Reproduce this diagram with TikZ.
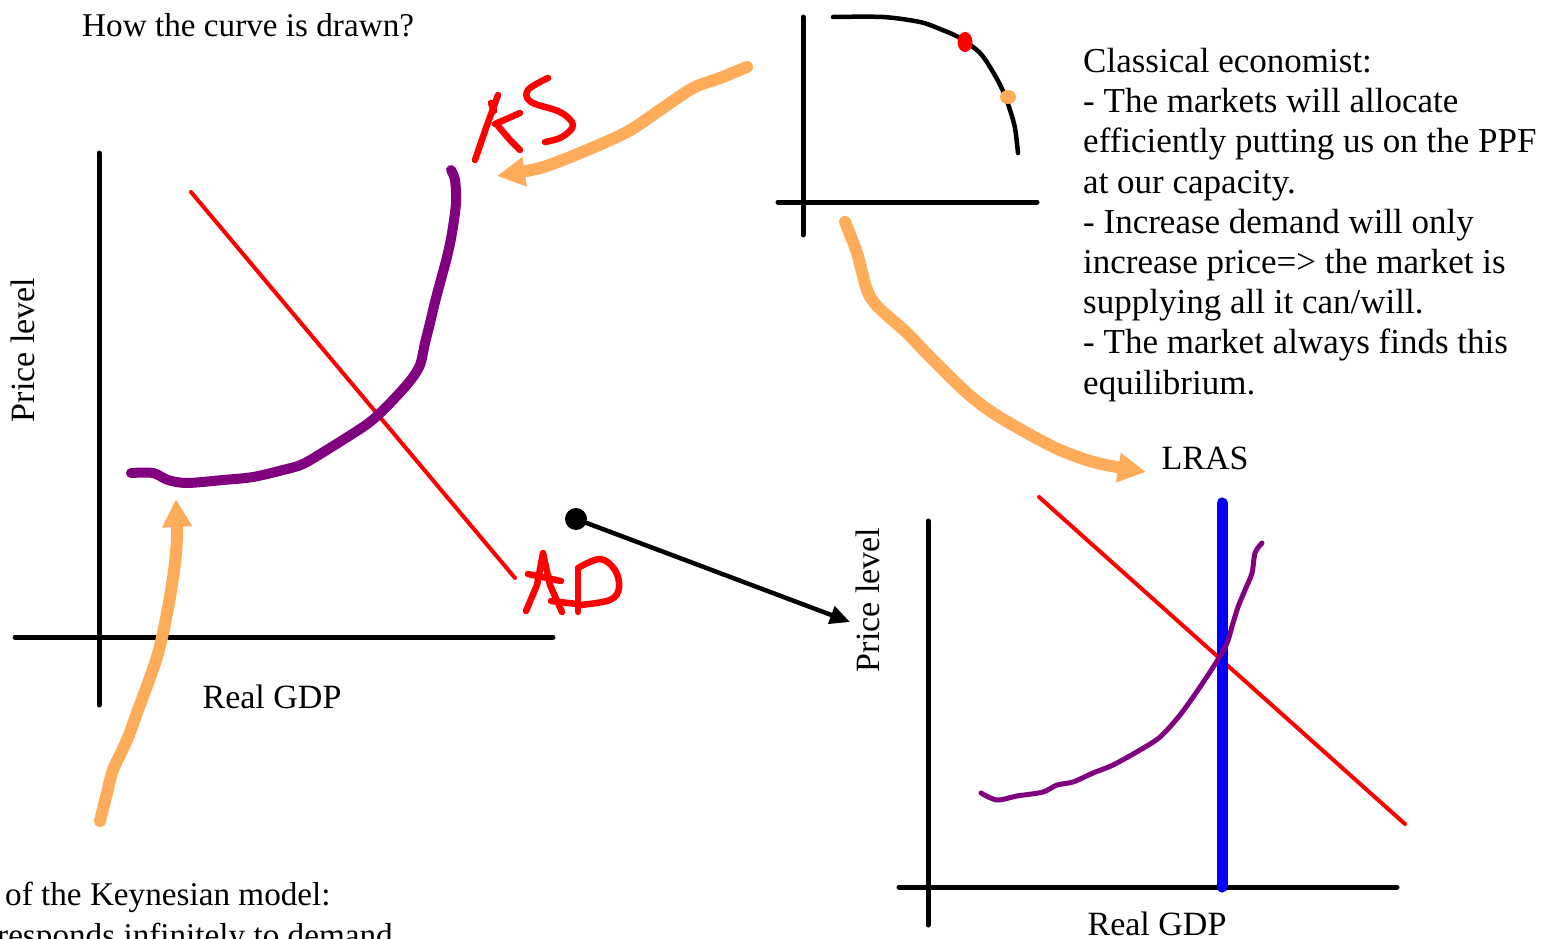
\documentclass[tikz,border=0pt]{standalone}
\usepackage{fontspec}
\setmainfont{Liberation Serif}
\usetikzlibrary{arrows.meta}
\definecolor{orng}{RGB}{255,172,90}
\definecolor{purp}{RGB}{128,0,128}
\begin{document}
\begin{tikzpicture}[x=1pt,y=-1pt,
  axisline/.style={line width=5pt, line cap=round},
  adline/.style={red, line width=4pt, line cap=round},
  ink/.style={red, line width=6.5pt, line cap=round, line join=round},
  orangearrow/.style={orng, line width=12pt, line cap=round, line join=round,
     -{Triangle[length=28pt,width=28pt]}},
  lbl/.style={font=\fontsize{34}{40}\selectfont, inner sep=0pt},
  ttl/.style={font=\fontsize{33.2}{40}\selectfont, inner sep=0pt},
  body/.style={font=\fontsize{35}{40.2}\selectfont, inner sep=0pt, align=left},
  foot/.style={font=\fontsize{33.2}{40}\selectfont, inner sep=0pt}]
\useasboundingbox (0,0) rectangle (1541,939);

% ---------- texts ----------
\node[ttl, anchor=base west] (title) at (82,37) {How the curve is drawn?};
\node[body, anchor=north west] (classic) at (1083,48) {Classical economist:\\
- The markets will allocate\\
efficiently putting us on the PPF\\
at our capacity.\\
- Increase demand will only\\
increase price=> the market is\\
supplying all it can/will.\\
- The market always finds this\\
equilibrium.};
\node[foot, anchor=base west] (keyA) at (5,905) {of the Keynesian model:};
\node[foot, anchor=base west] (keyB) at (-3,946) {responds infinitely to demand};

% ---------- left chart ----------
\draw[axisline] (99,153) -- (99,705);
\draw[axisline] (15,637) -- (553,637);
\node[lbl, rotate=90] (pl1) at (23,350) {Price level};
\node[lbl] (rg1) at (272,697) {Real GDP};
\draw[adline] (191,192) -- (515,578);
\draw[purp, line width=10pt, line cap=round, line join=round]
  plot[smooth, tension=0.5] coordinates {(131,473) (153,473) (168,480) (187,483) (223,480) (253,477)
  (283,470) (303,464) (330,448) (363,427) (377,416) (393,400) (410,381) (420,365)
  (425,343) (430,323) (435,302) (440,283) (447,257) (452,233) (456,203) (455,180) (451,170)};

% AS handwriting
\draw[ink] (475,160) -- (486,128) -- (498,95);
\draw[ink] (491,103) -- (494,111);
\draw[ink] (495,124) -- (520,113);
\draw[ink] (498,126) -- (510,140) -- (520,150);
\draw[ink] plot[smooth, tension=0.6] coordinates {(548,78) (528,90) (531,102) (560,112) (573,125) (562,137) (545,142)};

% AD handwriting
\draw[ink] (526,611) -- (537,585) -- (543,553) -- (550,585) -- (562,612);
\draw[ink] (528,574) -- (561,581);
\draw[ink] (551,601) -- (577,604);
\draw[ink] (578,570) -- (578,612);
\draw[ink] plot[smooth, tension=0.6] coordinates {(578,568) (600,559) (615,570) (619,588) (610,600) (580,605)};

% ---------- PPF ----------
\draw[axisline] (803,17) -- (803,235);
\draw[axisline] (778,202) -- (1037,202);
\draw[black, line width=4.5pt, line cap=round, line join=round]
  plot[smooth, tension=0.5] coordinates {(833,17) (883,17) (920,22) (940,29) (960,38) (980,53)
  (993,72) (1003,91) (1010,110) (1015,128) (1018,153)};
\fill[red] (965,42) ellipse[x radius=7.5pt, y radius=10pt];
\fill[orng] (1008,97) ellipse[x radius=8pt, y radius=7pt];

% ---------- right chart ----------
\draw[axisline] (928,521) -- (928,925);
\draw[axisline] (899,887) -- (1397,887);
\node[lbl, rotate=90] (pl2) at (868,600) {Price level};
\node[lbl] (rg2) at (1157,924) {Real GDP};
\node[lbl] (lras) at (1205,458) {LRAS};
\draw[adline] (1039,497) -- (1405,824);
\draw[blue, line width=11pt, line cap=round] (1222,503) -- (1222,887);
\draw[purp, line width=5pt, line cap=round, line join=round]
  plot[smooth, tension=0.5] coordinates {(981,793) (997,800) (1017,796) (1043,792) (1057,785)
  (1073,782) (1093,773) (1113,765) (1140,750) (1160,737) (1180,715) (1200,687)
  (1217,661) (1227,643) (1233,623) (1238,607) (1245,590) (1252,573) (1255,553) (1262,543)};

% ---------- connectors ----------
\coordinate (o1s) at (747,67);
\coordinate (o1e) at (497,176);
\draw[orangearrow] plot[smooth, tension=0.5] coordinates {(o1s) (720,78) (693,88) (660,110) (627,132)
  (580,153) (540,168) (o1e)};
\coordinate (o2s) at (845,222);
\coordinate (o2e) at (1146,472);
\draw[orangearrow] plot[smooth, tension=0.5] coordinates {(o2s) (857,253) (867,290) (878,307)
  (907,333) (930,357) (967,393) (993,413) (1027,433) (1060,450) (1097,463) (o2e)};
\coordinate (o3s) at (100,821);
\coordinate (o3e) at (176,499);
\draw[orangearrow] plot[smooth, tension=0.5] coordinates {(o3s) (107,793) (113,770) (127,740)
  (138,710) (148,683) (157,657) (163,633) (170,597) (175,563) (177,535) (o3e)};

\node[circle, fill=black, inner sep=0pt, minimum size=22pt] (dot) at (576,519) {};
\coordinate (bend) at (850,622);
\draw[line width=4.5pt, -{Triangle[length=20pt,width=18pt]}] (dot.center) -- (bend);
\end{tikzpicture}
\end{document}
